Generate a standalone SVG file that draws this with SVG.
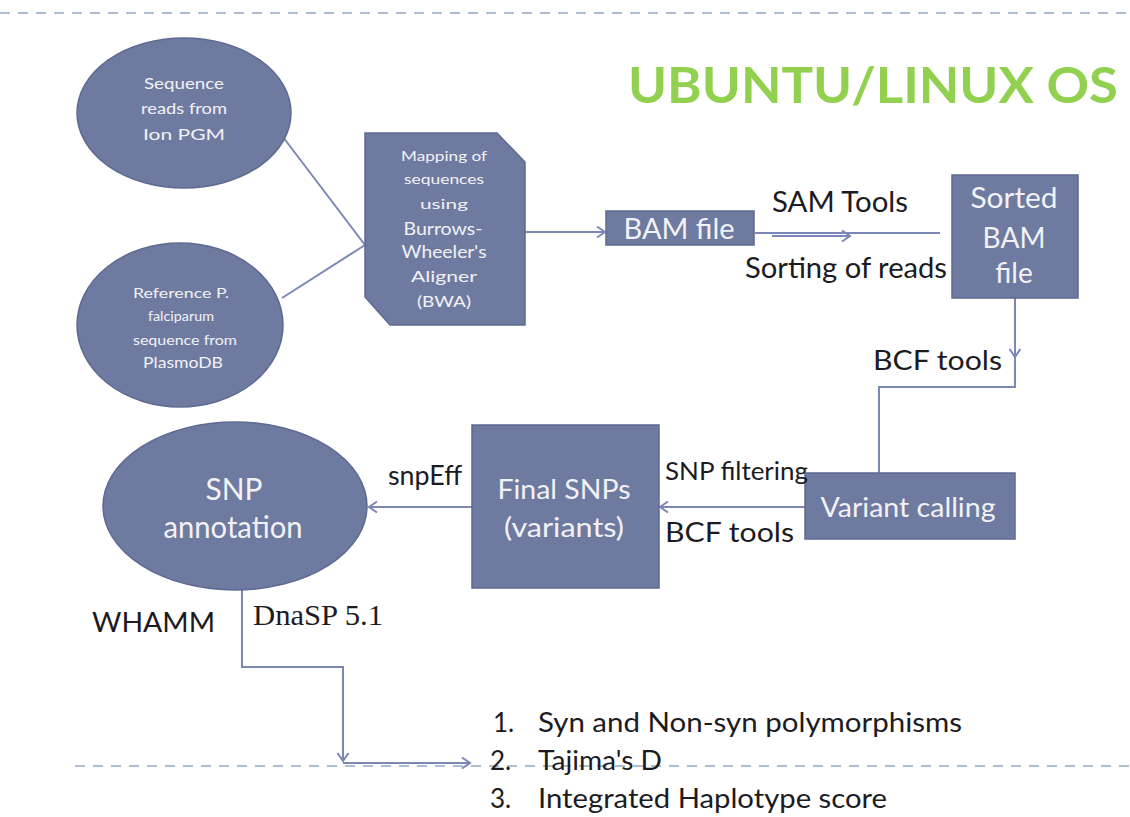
<svg xmlns="http://www.w3.org/2000/svg" width="1130" height="817" viewBox="0 0 1130 817">
<defs>
<marker id="arr" markerUnits="userSpaceOnUse" markerWidth="14" markerHeight="14" refX="11" refY="7" orient="auto">
<path d="M3,1.5 L11,7 L3,12.5" fill="none" stroke="#7b87b4" stroke-width="2"/>
</marker>
</defs>
<style>
.node{fill:#6f7aa0;stroke:#5f6a92;stroke-width:1.5}
.nt{font-family:Lato,"Liberation Sans",sans-serif;fill:#f2f2f6;text-anchor:middle}
.lbl{font-family:Lato,"Liberation Sans",sans-serif;fill:#1c1a22}
.con{fill:none;stroke:#7b87b4;stroke-width:2}
.dash{fill:none;stroke:#adbed2;stroke-width:2;stroke-dasharray:10 8}
</style>
<rect width="1130" height="817" fill="#ffffff"/>
<g id="borders">
<line class="dash" x1="0" y1="13" x2="1130" y2="13"/>
<line class="dash" x1="75" y1="766" x2="1130" y2="766"/>
</g>
<g id="title">
<text x="628" y="103" font-family="Lato,'Liberation Sans',sans-serif" font-weight="bold" font-size="50" fill="#92d050" textLength="490" lengthAdjust="spacingAndGlyphs">UBUNTU/LINUX OS</text>
</g>
<g id="connectors">
<line class="con" x1="283" y1="137" x2="365" y2="245"/>
<line class="con" x1="282" y1="298" x2="365" y2="245"/>
<line class="con" x1="525" y1="232" x2="605" y2="232" marker-end="url(#arr)"/>
<line class="con" x1="755" y1="233" x2="940" y2="233"/>
<line class="con" x1="772" y1="236" x2="850" y2="236" stroke-width="3" marker-end="url(#arr)"/>
<line class="con" x1="1015" y1="298" x2="1015" y2="357" marker-end="url(#arr)"/>
<path class="con" d="M1015,355 L1015,387 L879,387 L879,473"/>
<line class="con" x1="805" y1="507" x2="660" y2="507" marker-end="url(#arr)"/>
<line class="con" x1="472" y1="507" x2="369" y2="507" marker-end="url(#arr)"/>
<path class="con" d="M242,590 L242,667 L343,667 L343,761" marker-end="url(#arr)"/>
<line class="con" x1="343" y1="763" x2="470" y2="763" marker-end="url(#arr)"/>
</g>
<g id="seq-reads">
<ellipse class="node" cx="184" cy="113" rx="107" ry="75"/>
<text class="nt" font-size="16" x="184" y="89" textLength="80" lengthAdjust="spacingAndGlyphs">Sequence</text>
<text class="nt" font-size="16" x="184" y="114" textLength="86" lengthAdjust="spacingAndGlyphs">reads from</text>
<text class="nt" font-size="16" x="184" y="140" textLength="82" lengthAdjust="spacingAndGlyphs">Ion  PGM</text>
</g>
<g id="reference">
<ellipse class="node" cx="180" cy="325" rx="103" ry="82"/>
<text class="nt" font-size="14" x="181" y="298" textLength="96" lengthAdjust="spacingAndGlyphs">Reference P.</text>
<text class="nt" font-size="14" x="181" y="321" textLength="66" lengthAdjust="spacingAndGlyphs">falciparum</text>
<text class="nt" font-size="14" x="185" y="345" textLength="104" lengthAdjust="spacingAndGlyphs">sequence from</text>
<text class="nt" font-size="16" x="183" y="368" textLength="80" lengthAdjust="spacingAndGlyphs">PlasmoDB</text>
</g>
<g id="mapping">
<path class="node" d="M365,133 L497,133 L525,162 L525,325 L390,325 L365,297 Z"/>
<text class="nt" font-size="14" x="444" y="161" textLength="86" lengthAdjust="spacingAndGlyphs">Mapping of</text>
<text class="nt" font-size="14" x="444" y="184" textLength="80" lengthAdjust="spacingAndGlyphs">sequences</text>
<text class="nt" font-size="14" x="444" y="209" textLength="48" lengthAdjust="spacingAndGlyphs">using</text>
<text class="nt" font-size="17" x="443" y="235" textLength="79" lengthAdjust="spacingAndGlyphs">Burrows-</text>
<text class="nt" font-size="17" x="444" y="258" textLength="85" lengthAdjust="spacingAndGlyphs">Wheeler's</text>
<text class="nt" font-size="15" x="444" y="282" textLength="66" lengthAdjust="spacingAndGlyphs">Aligner</text>
<text class="nt" font-size="15" x="444" y="307" textLength="54" lengthAdjust="spacingAndGlyphs">(BWA)</text>
</g>
<g id="bam">
<rect class="node" x="606" y="211" width="148" height="34"/>
<text class="nt" font-size="28" x="679" y="239" textLength="111" lengthAdjust="spacingAndGlyphs">BAM file</text>
</g>
<g id="sorted-bam">
<rect class="node" x="952" y="175" width="126" height="123"/>
<text class="nt" font-size="28" x="1014" y="208" textLength="87" lengthAdjust="spacingAndGlyphs">Sorted</text>
<text class="nt" font-size="28" x="1014" y="248">BAM</text>
<text class="nt" font-size="28" x="1014" y="283">file</text>
</g>
<g id="variant-calling">
<rect class="node" x="805" y="473" width="210" height="66"/>
<text class="nt" font-size="27" x="908" y="517" textLength="175" lengthAdjust="spacingAndGlyphs">Variant calling</text>
</g>
<g id="final-snps">
<rect class="node" x="472" y="425" width="187" height="163"/>
<text class="nt" font-size="27" x="564" y="499" textLength="133" lengthAdjust="spacingAndGlyphs">Final SNPs</text>
<text class="nt" font-size="27" x="564" y="537" textLength="120" lengthAdjust="spacingAndGlyphs">(variants)</text>
</g>
<g id="snp-annotation">
<ellipse class="node" cx="235" cy="506" rx="132" ry="84"/>
<text class="nt" font-size="30" x="234" y="500" textLength="57" lengthAdjust="spacingAndGlyphs">SNP</text>
<text class="nt" font-size="30" x="233" y="538" textLength="139" lengthAdjust="spacingAndGlyphs">annotation</text>
</g>
<g id="labels">
<text class="lbl" font-size="28" x="772" y="212" textLength="136" lengthAdjust="spacingAndGlyphs">SAM Tools</text>
<text class="lbl" font-size="28" x="745" y="278" textLength="202" lengthAdjust="spacingAndGlyphs">Sorting of reads</text>
<text class="lbl" font-size="27" x="873" y="370" textLength="129" lengthAdjust="spacingAndGlyphs">BCF tools</text>
<text class="lbl" font-size="25" x="665" y="480" textLength="143" lengthAdjust="spacingAndGlyphs">SNP filtering</text>
<text class="lbl" font-size="27" x="665" y="542" textLength="129" lengthAdjust="spacingAndGlyphs">BCF tools</text>
<text class="lbl" font-size="26" x="388" y="485" textLength="74" lengthAdjust="spacingAndGlyphs">snpEff</text>
<text class="lbl" font-size="27" x="92" y="632" textLength="123" lengthAdjust="spacingAndGlyphs">WHAMM</text>
<text x="253" y="625" font-family="'Liberation Serif',serif" font-size="30" fill="#1c1a22" textLength="130" lengthAdjust="spacingAndGlyphs">DnaSP 5.1</text>
</g>
<g id="results">
<text class="lbl" font-size="26" x="493" y="732">1.</text>
<text class="lbl" font-size="26" x="538" y="732" textLength="424" lengthAdjust="spacingAndGlyphs">Syn and Non-syn polymorphisms</text>
<text class="lbl" font-size="26" x="490" y="770">2.</text>
<text class="lbl" font-size="26" x="538" y="770" textLength="124" lengthAdjust="spacingAndGlyphs">Tajima's D</text>
<text class="lbl" font-size="26" x="490" y="808">3.</text>
<text class="lbl" font-size="26" x="538" y="808" textLength="349" lengthAdjust="spacingAndGlyphs">Integrated Haplotype score</text>
</g>
</svg>
